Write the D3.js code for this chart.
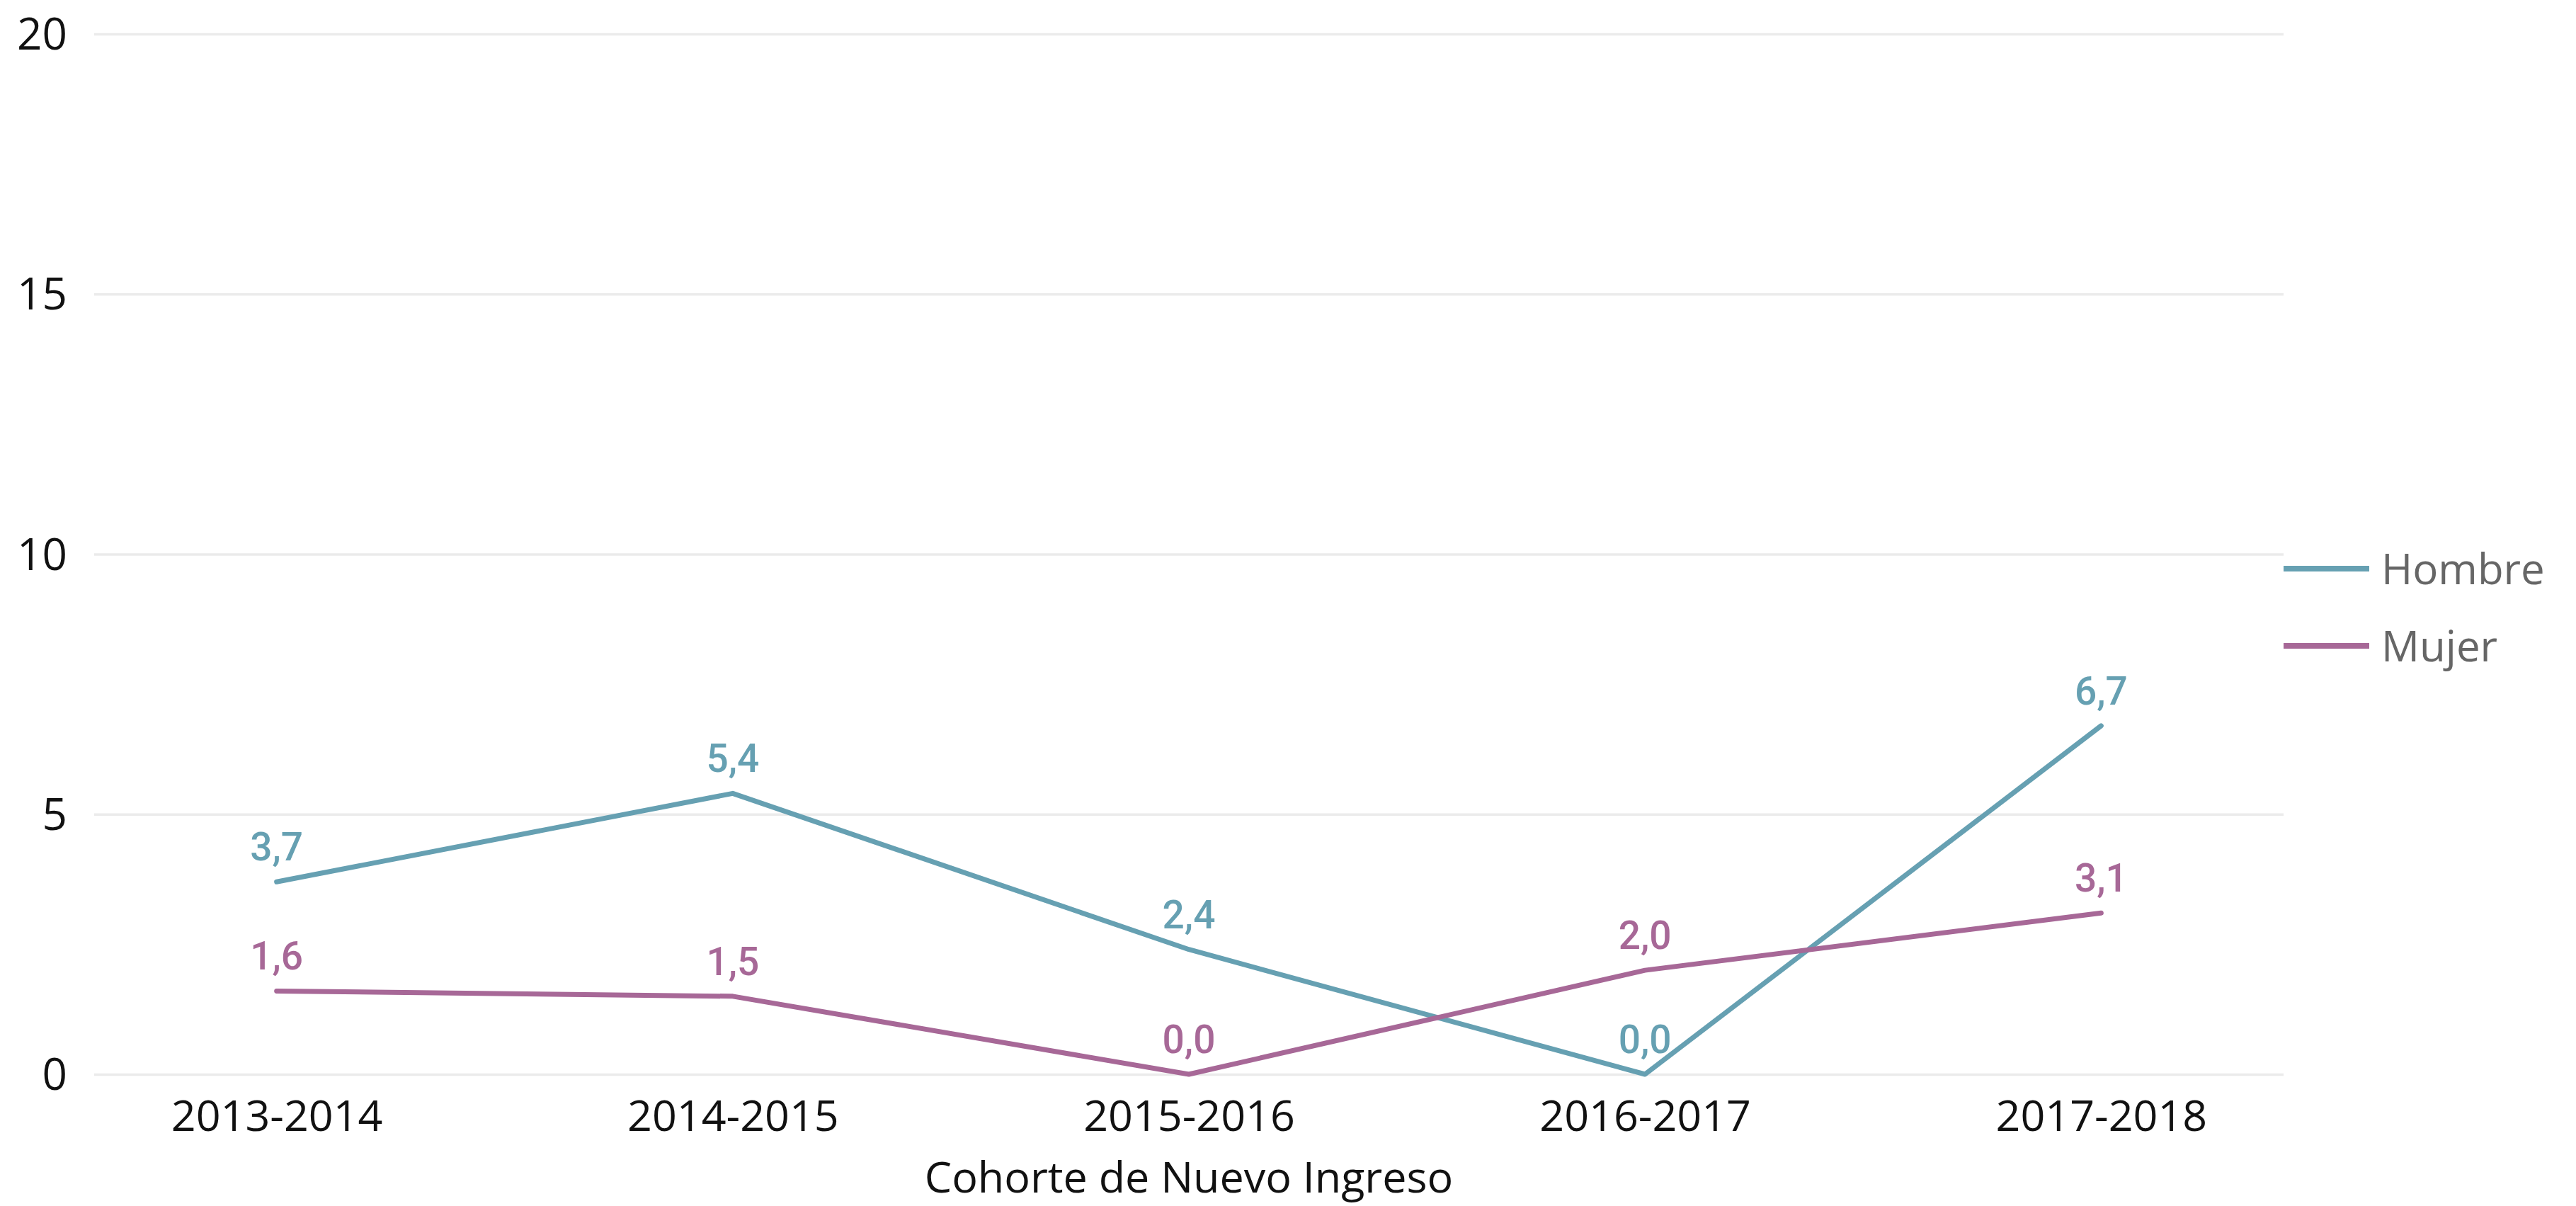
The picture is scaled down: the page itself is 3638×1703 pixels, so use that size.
<!DOCTYPE html>
<html>
<head>
<meta charset="utf-8">
<script src="https://cdn.jsdelivr.net/npm/d3@7"></script>
<style>
  html, body { margin: 0; padding: 0; background: #ffffff; }
  svg { display: block; }
</style>
</head>
<body>
<svg id="chart" width="3638" height="1703"></svg>
<script>
// Cohorts on the x axis
const categories = ["2013-2014", "2014-2015", "2015-2016", "2016-2017", "2017-2018"];
// Series values (percent)
const hombre = [3.7, 5.4, 2.4, 0.0, 6.7];
const mujer = [1.6, 1.5, 0.0, 2.0, 3.1];
const seriesNames = ["Hombre", "Mujer"];
const seriesColors = ["#66a0b2", "#a76897"];
// Y axis ticks
const yTicks = [0, 5, 10, 15, 20];
const xTitle = "Cohorte de Nuevo Ingreso";

const series = [
  { name: seriesNames[0], color: seriesColors[0], values: hombre },
  { name: seriesNames[1], color: seriesColors[1], values: mujer }
];

const svg = d3.select("#chart");
const plot = { left: 133, right: 3225, top: 48, bottom: 1517 };

const x = d3.scalePoint().domain(categories).range([plot.left, plot.right]).padding(0.4);
const y = d3.scaleLinear().domain([0, 20]).range([plot.bottom, plot.top]);

const axisFont = "'Open Sans', 'Noto Sans', sans-serif";
const labelFont = "Roboto, 'DejaVu Sans', sans-serif";

// Y axis with horizontal gridlines
const yAxis = svg.append("g")
  .attr("transform", `translate(${plot.left},0)`)
  .call(d3.axisLeft(y).tickValues(yTicks).tickSize(-(plot.right - plot.left)).tickPadding(38));
yAxis.select(".domain").remove();
yAxis.selectAll(".tick line").attr("stroke", "#ebebeb").attr("stroke-width", 3.5);
yAxis.selectAll(".tick text")
  .attr("fill", "#111111")
  .attr("font-family", axisFont)
  .attr("font-size", 62)
  .attr("dy", "0.35em");

// X axis labels
const xAxis = svg.append("g")
  .attr("transform", `translate(0,${plot.bottom})`)
  .call(d3.axisBottom(x).tickSize(0).tickPadding(0));
xAxis.select(".domain").remove();
xAxis.selectAll(".tick text")
  .attr("fill", "#111111")
  .attr("font-family", axisFont)
  .attr("font-size", 61)
  .attr("y", 80)
  .attr("dy", 0);

// X axis title
svg.append("text")
  .attr("x", (plot.left + plot.right) / 2)
  .attr("y", 1684)
  .attr("text-anchor", "middle")
  .attr("fill", "#111111")
  .attr("font-family", axisFont)
  .attr("font-size", 61)
  .text(xTitle);

// Lines
const line = d3.line()
  .x((d, i) => x(categories[i]))
  .y(d => y(d));

svg.append("g").selectAll("path")
  .data(series)
  .join("path")
  .attr("d", s => line(s.values))
  .attr("fill", "none")
  .attr("stroke", s => s.color)
  .attr("stroke-width", 7)
  .attr("stroke-linecap", "round")
  .attr("stroke-linejoin", "round");

// Data labels with comma decimal separator
const fmt = d3.formatLocale({ decimal: ",", thousands: ".", grouping: [3], currency: ["", "€"] }).format(".1f");

series.forEach(s => {
  svg.append("g").selectAll("text")
    .data(s.values)
    .join("text")
    .attr("x", (d, i) => x(categories[i]))
    .attr("y", d => y(d) - 30)
    .attr("text-anchor", "middle")
    .attr("fill", s.color)
    .attr("font-family", labelFont)
    .attr("font-weight", 500)
    .attr("font-size", 55)
    .text(d => fmt(d));
});

// Legend
const legend = svg.append("g");
const legendRows = [803, 912];
series.forEach((s, i) => {
  legend.append("line")
    .attr("x1", 3225).attr("x2", 3346)
    .attr("y1", legendRows[i]).attr("y2", legendRows[i])
    .attr("stroke", s.color)
    .attr("stroke-width", 8);
  legend.append("text")
    .attr("x", 3363)
    .attr("y", legendRows[i] + 22)
    .attr("fill", "#666666")
    .attr("font-family", axisFont)
    .attr("font-size", 60)
    .text(s.name);
});
</script>
</body>
</html>
